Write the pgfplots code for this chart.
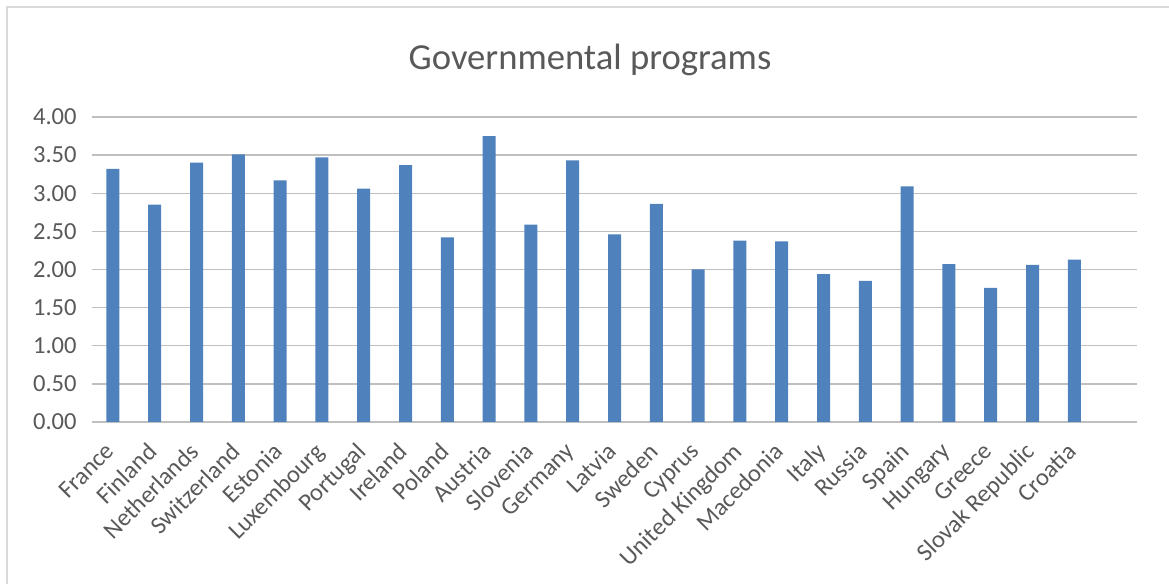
\documentclass[border=0pt]{standalone}
\usepackage{fontspec}
\setmainfont{Carlito}
\usepackage{pgfplots}
\pgfplotsset{compat=1.18}
\definecolor{txt}{HTML}{595959}
\definecolor{grid}{HTML}{D9D9D9}
\definecolor{bar}{HTML}{4F81BD}
\begin{document}
\begin{tikzpicture}
\path[use as bounding box] (0,0) rectangle (876.75pt,438pt);
\draw[grid, line width=1.1pt] (5.25pt,-2pt) -- (5.25pt,432.75pt) -- (880pt,432.75pt);
\node[anchor=base, text=txt, font=\fontsize{27.5}{30}\selectfont] at (442.5pt,385.5pt) {Governmental programs};
\begin{axis}[
  at={(69pt,121.5pt)}, anchor=south west,
  scale only axis, width=783.75pt, height=228.75pt,
  xmin=-0.5, xmax=24.5, ymin=0, ymax=4,
  axis line style={draw=none},
  tick style={draw=none},
  major tick length=0pt,
  ytick={0,0.5,...,4},
  ymajorgrids, xmajorgrids=false, grid style={grid, line width=1.1pt},
  yticklabel style={text=txt, font=\fontsize{18.4}{20}\selectfont, /pgf/number format/fixed, /pgf/number format/fixed zerofill, /pgf/number format/precision=2, /pgf/number format/assume math mode=true},
  every y tick label/.append style={xshift=-8pt},
  xtick={0,...,23},
  xticklabels={France,Finland,Netherlands,Switzerland,Estonia,Luxembourg,Portugal,Ireland,Poland,Austria,Slovenia,Germany,Latvia,Sweden,Cyprus,United Kingdom,Macedonia,Italy,Russia,Spain,Hungary,Greece,Slovak Republic,Croatia},
  xticklabel style={text=txt, font=\fontsize{18.4}{20}\selectfont, rotate=45, anchor=north east, inner sep=0pt, xshift=-14.7pt, yshift=-5.6pt},
]
\addplot[ybar, bar width=9.75pt, fill=bar, draw=none] coordinates {
(0,3.32) (1,2.85) (2,3.40) (3,3.51) (4,3.17) (5,3.47) (6,3.06) (7,3.37) (8,2.42) (9,3.75) (10,2.59) (11,3.43)
(12,2.46) (13,2.86) (14,2.00) (15,2.38) (16,2.37) (17,1.94) (18,1.85) (19,3.09) (20,2.07) (21,1.76) (22,2.06) (23,2.13)
};
\end{axis}
\end{tikzpicture}
\end{document}
